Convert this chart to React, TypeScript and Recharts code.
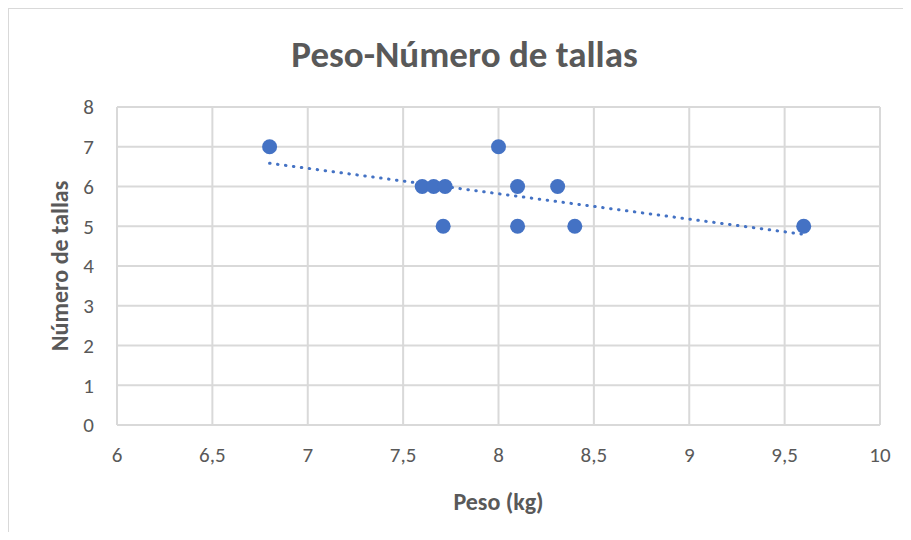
import { ScatterChart, Scatter, XAxis, YAxis, CartesianGrid } from "recharts";

// Peso (kg) and Número de tallas for each point
const pesos = [6.8, 7.6, 7.66, 7.72, 7.71, 8.0, 8.1, 8.31, 8.1, 8.4, 9.6];
const tallas = [7, 6, 6, 6, 5, 7, 6, 6, 5, 5, 5];

const xTicks = [6, 6.5, 7, 7.5, 8, 8.5, 9, 9.5, 10];
const yTicks = [0, 1, 2, 3, 4, 5, 6, 7, 8];

const data = pesos.map((p, i) => ({ peso: p, tallas: tallas[i] }));

const FONT = "Calibri, Carlito, Lato, sans-serif";
const TEXT = "#595959";
const GRID = "#d9d9d9";
const BLUE = "#4472C4";

const Dot = ({ cx, cy }: any) => <circle cx={cx} cy={cy} r={7.5} fill={BLUE} />;

const XTick = ({ x, y, payload }: any) => (
  <text x={x} y={y} dy={35} textAnchor="middle" fill={TEXT} fontSize={21} fontFamily={FONT}>
    {String(payload.value).replace(".", ",")}
  </text>
);

const YTitle = ({ viewBox }: any) => {
  const cx = viewBox.x + 2;
  const cy = viewBox.y + viewBox.height / 2;
  return (
    <text
      x={cx}
      y={cy}
      transform={`rotate(-90 ${cx} ${cy})`}
      textAnchor="middle"
      dominantBaseline="central"
      fill={TEXT}
      fontSize={24}
      fontWeight="bold"
      fontFamily={FONT}
    >
      Número de tallas
    </text>
  );
};

const App = () => {
  return (
    <div
      style={{
        position: "relative",
        width: 902,
        height: 524,
        boxShadow: `inset 1px 1px 0 ${GRID}`,
      }}
    >
      <div
        style={{
          position: "absolute",
          left: 0,
          top: 28,
          width: 913,
          textAlign: "center",
          fontFamily: FONT,
          fontWeight: "bold",
          fontSize: 37,
          lineHeight: "37px",
          color: TEXT,
        }}
      >
        Peso-Número de tallas
      </div>
      <ScatterChart
        width={902}
        height={524}
        margin={{ top: 99, right: 30, bottom: 67, left: 49 }}
      >
        <CartesianGrid stroke={GRID} strokeWidth={2} />
        <XAxis
          type="number"
          dataKey="peso"
          domain={[6, 10]}
          ticks={xTicks}
          height={40}
          tickLine={false}
          tickSize={0}
          axisLine={{ stroke: GRID, strokeWidth: 2 }}
          tick={<XTick />}
          label={{
            value: "Peso (kg)",
            position: "bottom",
            offset: 28,
            fill: TEXT,
            fontSize: 24,
            fontWeight: "bold",
            fontFamily: FONT,
          }}
        />
        <YAxis
          type="number"
          dataKey="tallas"
          domain={[0, 8]}
          ticks={yTicks}
          width={60}
          tickLine={false}
          tickSize={0}
          tickMargin={23}
          axisLine={{ stroke: GRID, strokeWidth: 2 }}
          tick={{ fill: TEXT, fontSize: 21, fontFamily: FONT }}
          label={<YTitle />}
        />
        <Scatter
          data={data}
          fill={BLUE}
          shape={<Dot />}
          line={{ stroke: BLUE, strokeWidth: 3, strokeDasharray: "0.5 7.5", strokeLinecap: "round" }}
          lineType="fitting"
          isAnimationActive={false}
        />
      </ScatterChart>
    </div>
  );
};

export default App;
